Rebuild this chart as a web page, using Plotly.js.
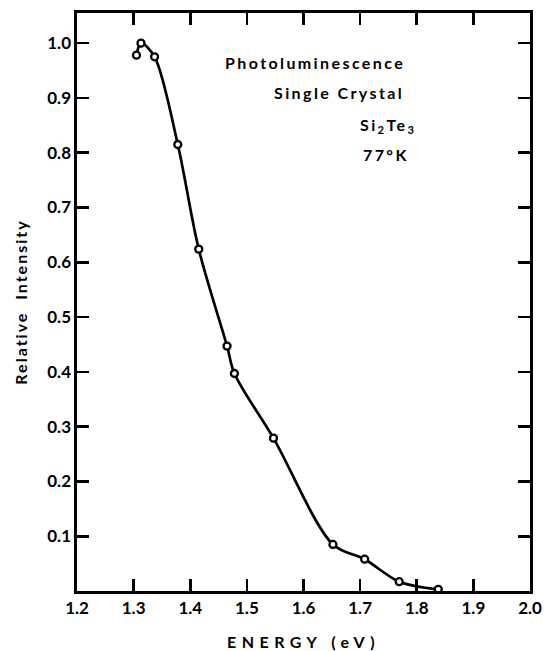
<!DOCTYPE html>
<html>
<head>
<meta charset="utf-8">
<script src="https://cdn.plot.ly/plotly-3.0.1.min.js"></script>
<style>
  html, body { margin: 0; padding: 0; background: #fff; }
  #chart { width: 546px; height: 651px; }
  /* tracked lettering for the titles and notes */
  .annotation-text { letter-spacing: 2.4px; }
  .xtitle { letter-spacing: 5.5px; }
  .ytitle { letter-spacing: 2px; }
</style>
</head>
<body>
<div id="chart"></div>
<script>
// Photoluminescence spectrum of single-crystal Si2Te3 at 77 K
const energy = [1.305, 1.313, 1.337, 1.378, 1.415, 1.465, 1.478, 1.547, 1.652, 1.708, 1.769, 1.838];
const intensity = [0.978, 1.0, 0.975, 0.815, 0.624, 0.447, 0.397, 0.279, 0.085, 0.058, 0.017, 0.003];

const xTickVals = [1.2, 1.3, 1.4, 1.5, 1.6, 1.7, 1.8, 1.9, 2.0];
const xTickText = ['1.2', '1.3', '1.4', '1.5', '1.6', '1.7', '1.8', '1.9', '2.0'];
const yTickVals = [0.1, 0.2, 0.3, 0.4, 0.5, 0.6, 0.7, 0.8, 0.9, 1.0];
const yTickText = ['0.1', '0.2', '0.3', '0.4', '0.5', '0.6', '0.7', '0.8', '0.9', '1.0'];

const notes = [
  { text: 'Photoluminescence', x: 0.525, y: 0.915 },
  { text: 'Single Crystal', x: 0.578, y: 0.862 },
  { text: 'Si<sub>2</sub>Te<sub>3</sub>', x: 0.687, y: 0.806 },
  { text: '77°K', x: 0.682, y: 0.756 }
];

const FONT = 'Lato, "DejaVu Sans", sans-serif';

const curve = {
  x: energy, y: intensity,
  type: 'scatter', mode: 'lines',
  line: { shape: 'spline', smoothing: 0.9, color: '#000', width: 2.7 },
  hoverinfo: 'skip', showlegend: false, cliponaxis: false
};

const points = {
  x: energy, y: intensity,
  type: 'scatter', mode: 'markers',
  marker: { symbol: 'circle', size: 7, color: '#fff', line: { color: '#000', width: 2.3 } },
  showlegend: false, cliponaxis: false
};

const axisCommon = {
  showgrid: false, zeroline: false,
  showline: true, linecolor: '#000', linewidth: 2.6,
  mirror: 'ticks', ticks: 'inside', ticklen: 12, tickwidth: 2.6, tickcolor: '#000',
  tickfont: { family: FONT, size: 17, color: '#000', weight: 700 }
};

const layout = {
  width: 546, height: 651,
  margin: { l: 77, r: 16, t: 13, b: 60 },
  paper_bgcolor: '#fff', plot_bgcolor: '#fff',
  font: { family: FONT, color: '#000' },
  xaxis: Object.assign({}, axisCommon, {
    range: [1.2, 2.0],
    tickmode: 'array', tickvals: xTickVals, ticktext: xTickText,
    title: { text: 'ENERGY (eV)', font: { family: FONT, size: 16, weight: 700 }, standoff: 20 }
  }),
  yaxis: Object.assign({}, axisCommon, {
    range: [0, 1.055],
    tickmode: 'array', tickvals: yTickVals, ticktext: yTickText,
    title: { text: 'Relative  Intensity', font: { family: FONT, size: 16, weight: 700 }, standoff: 16 }
  }),
  annotations: notes.map(n => ({
    text: n.text, x: n.x, y: n.y, xref: 'paper', yref: 'paper',
    xanchor: 'center', yanchor: 'middle', showarrow: false,
    font: { family: FONT, size: 16, color: '#000', weight: 700 }
  }))
};

Plotly.newPlot('chart', [curve, points], layout, { displayModeBar: false, staticPlot: true });
</script>
</body>
</html>
